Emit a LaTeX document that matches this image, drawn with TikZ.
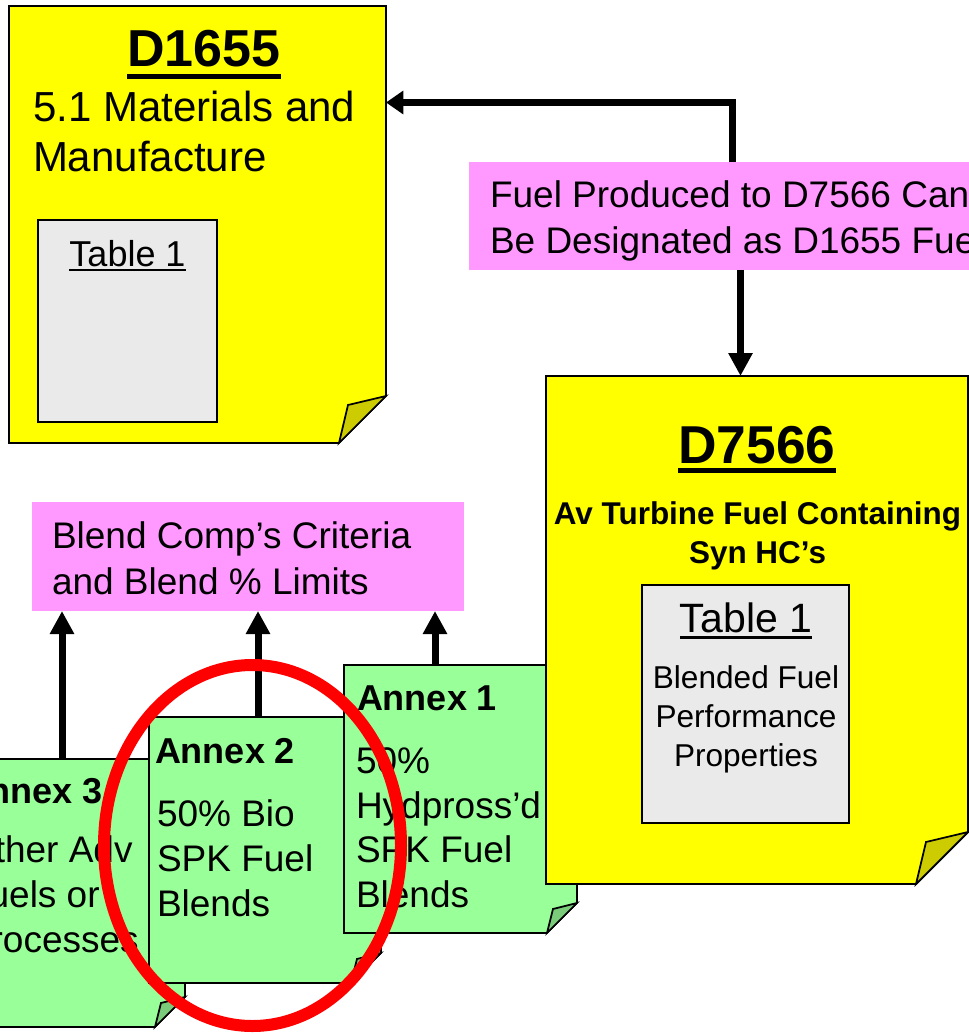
\documentclass[tikz,border=0pt]{standalone}
\usepackage{fontspec}
\setmainfont{Liberation Sans}
\usetikzlibrary{arrows.meta,calc,fit,shapes.geometric}

\definecolor{noteyellow}{HTML}{FFFF00}
\definecolor{flapyellow}{HTML}{CCCC00}
\definecolor{notegreen}{HTML}{99FF99}
\definecolor{flapgreen}{HTML}{7ACC7A}
\definecolor{notepink}{HTML}{FF99FF}
\definecolor{tablegray}{HTML}{EAEAEA}
\definecolor{ringred}{HTML}{FF0000}

\newcommand\myul[3]{\setbox0\hbox{#1}\rlap{\copy0}\rule[-#2]{\wd0}{#3}}

\newcommand\drawnote[5]{%
 \filldraw[bd, fill=#2] (#1.north west) -- (#1.north east) -- ($(#1.south east)+(0,-#4)$) -- ($(#1.south east)+(-#4,0)$) -- (#1.south west) -- cycle;
 \filldraw[bd, fill=#3] ($(#1.south east)+(-#4,0)$) -- ($(#1.south east)+(-#5,-#5)$) -- ($(#1.south east)+(0,-#4)$) -- cycle;}

\tikzset{
 bd/.style={draw=black, line width=1.3pt, line join=miter},
 boxfit/.style={inner sep=0pt, outer sep=0pt},
 txt/.style={inner sep=0pt, outer sep=0pt, anchor=base west, align=left},
 ctxt/.style={inner sep=0pt, outer sep=0pt, anchor=base, align=center},
 arr/.style={line width=5.25pt, draw=black, -{Triangle[width=17.25pt,length=17.25pt]}},
 arrshort/.style={line width=5.25pt, draw=black, -{Triangle[width=17pt,length=13pt]}},
 bodyfont/.style={font=\fontsize{27.75pt}{33.4pt}\selectfont},
 annexfont/.style={font=\bfseries\fontsize{27pt}{33pt}\selectfont},
}

\begin{document}
\begin{tikzpicture}[x=0.75pt,y=-0.75pt]
\clip (0,0) rectangle (969,1034);
\fill[white] (0,0) rectangle (969,1034);

% pink boxes (multi-line text nodes are anchored at the baseline of their last line)
\node[boxfit, fit={(469,162.5) (1000,270)}, fill=notepink] (fuel) {};
\node[txt, font=\fontsize{27.75pt}{34.5pt}\selectfont] (fueltxt) at (490,253)
  {Fuel Produced to D7566 Can\\Be Designated as D1655 Fuel};

\node[boxfit, fit={(32,502) (464,611)}, fill=notepink] (blend) {};
\node[txt, font=\fontsize{27.75pt}{34.5pt}\selectfont] (blendtxt) at (52,594)
  {Blend Comp’s Criteria\\and Blend \% Limits};

% Annex 3
\node[boxfit, fit={(-47,759) (185,1027)}] (ann3) {};
\drawnote{ann3}{notegreen}{flapgreen}{30}{24}
\node[txt, annexfont] (ann3t) at (-37,803) {Annex 3};
\node[txt, bodyfont] (ann3b) at (-34,952) {Other Adv\\Fuels or\\Processes};

% Annex 2
\node[boxfit, fit={(149,717) (381,983)}] (ann2) {};
\drawnote{ann2}{notegreen}{flapgreen}{30}{24}
\node[txt, annexfont] (ann2t) at (155,763) {Annex 2};
\node[txt, bodyfont] (ann2b) at (157,916) {50\% Bio\\SPK Fuel\\Blends};

% Annex 1
\node[boxfit, fit={(344,665) (577,933)}] (ann1) {};
\drawnote{ann1}{notegreen}{flapgreen}{30}{24}
\node[txt, annexfont] (ann1t) at (357,710) {Annex 1};
\node[txt, bodyfont] (ann1b) at (356,907.5) {50\%\\Hydpross’d\\SPK Fuel\\Blends};

% D1655
\node[boxfit, fit={(9,6) (386,443)}] (d1655) {};
\drawnote{d1655}{noteyellow}{flapyellow}{47}{38}
\node[ctxt, font=\bfseries\fontsize{39pt}{47pt}\selectfont] (d1655t) at (204,67) {\myul{D1655}{9pt}{3.75pt}};
\node[txt, font=\fontsize{31.5pt}{37.5pt}\selectfont] (d1655b) at (33,172) {5.1 Materials and\\Manufacture};
\node[boxfit, fit={(38,220) (217,422)}, bd, fill=tablegray] (tab1) {};
\node[ctxt, font=\fontsize{27pt}{32pt}\selectfont] (tab1t) at (127.5,266) {\myul{Table 1}{4.1pt}{2pt}};

% D7566
\node[boxfit, fit={(546,376) (968,884)}] (d7566) {};
\drawnote{d7566}{noteyellow}{flapyellow}{52}{42}
\node[ctxt, font=\bfseries\fontsize{40pt}{48pt}\selectfont] (d7566t) at (757,463) {\myul{D7566}{7.7pt}{4.2pt}};
\node[ctxt, font=\bfseries\fontsize{23.6pt}{29.25pt}\selectfont] (d7566s) at (757.5,563) {Av Turbine Fuel Containing\\Syn HC’s};
\node[boxfit, fit={(642,585) (849,823)}, bd, fill=tablegray] (tab2) {};
\node[ctxt, font=\fontsize{30.75pt}{36pt}\selectfont] (tab2t) at (746,632) {\myul{Table 1}{5.5pt}{2.7pt}};
\node[ctxt, font=\fontsize{23.7pt}{28.9pt}\selectfont] (tab2b) at (746,766) {Blended Fuel\\Performance\\Properties};

% connectors
\coordinate (bend) at (732.5,102.5);
\draw[arrshort] (fuel.north -| bend) |- (d1655.east |- bend);
\draw[arr] ($(fuel.south west)+(271.5,0)$) coordinate (fdown) -- (fdown |- d7566.north);
\draw[arr] ($(ann3.north west)+(109,0)$) coordinate (s3) -- (s3 |- blend.south);
\draw[arr] ($(ann2.north west)+(109,0)$) coordinate (s2) -- (s2 |- blend.south);
\draw[arr] ($(ann1.north west)+(91,0)$) coordinate (s1) -- (s1 |- blend.south);

% red ring
\node[ellipse, draw=ringred, line width=9pt, inner sep=0pt,
      minimum width=222.75pt, minimum height=270.75pt] (ring) at (252.5,845.5) {};
\end{tikzpicture}
\end{document}
